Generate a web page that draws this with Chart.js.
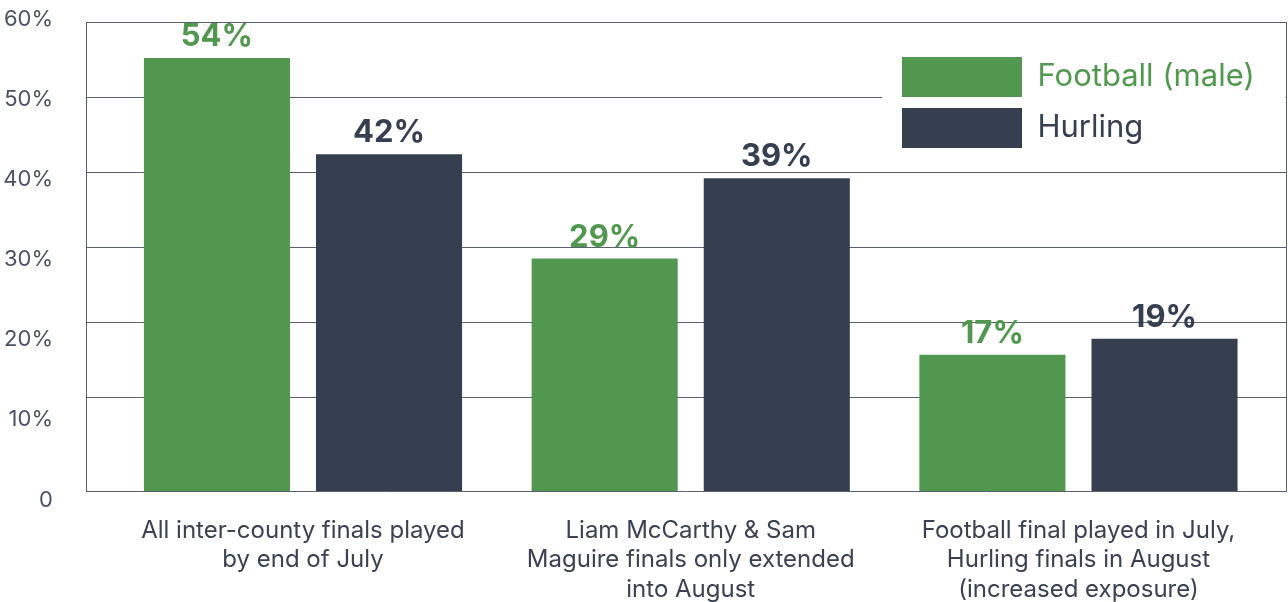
<!DOCTYPE html>
<html><head><meta charset="utf-8">
<script src="https://cdn.jsdelivr.net/npm/chart.js@4/dist/chart.umd.min.js"></script>
<style>html,body{margin:0;padding:0;background:#fff;overflow:hidden}</style>
</head><body>
<canvas id="c" width="1288" height="602"></canvas>
<script>
// ---- data ----
const categories = [
  ["All inter-county finals played", "by end of July"],
  ["Liam McCarthy & Sam", "Maguire finals only extended", "into August"],
  ["Football final played in July,", "Hurling finals in August", "(increased exposure)"]
];
const categoryPositions = [0, 1, 2];
const seriesNames = ["Football (male)", "Hurling"];
const football = [54, 29, 17];
const hurling = [42, 39, 19];
const yTickValues = [0, 10, 20, 30, 40, 50, 60];
const yTickLabels = ["0", "10%", "20%", "30%", "40%", "50%", "60%"];
const gridSteps = [0, 1, 2, 3, 4, 5];

// ---- style ----
const GREEN = '#52974f';
const DARK = '#363f4f';
const LINE = '#5b616c';
const FONT = 'Inter, "Open Sans", sans-serif';

const valueLabels = {
  id: 'valueLabels',
  afterDatasetsDraw(chart) {
    const ctx = chart.ctx;
    chart.data.datasets.forEach((ds, di) => {
      const meta = chart.getDatasetMeta(di);
      meta.data.forEach((bar, i) => {
        ctx.save();
        ctx.font = 'bold 31px ' + FONT;
        ctx.fillStyle = ds.backgroundColor;
        ctx.textAlign = 'center';
        ctx.textBaseline = 'alphabetic';
        ctx.fillText(ds.data[i].y + '%', bar.x, bar.y - 12);
        ctx.restore();
      });
    });
  }
};

const legendPlace = {
  id: 'legendPlace',
  afterLayout(chart) {
    const lg = chart.legend;
    const pad = lg.options.labels.padding;
    lg.left = 902 - pad; lg.top = 57 - pad;
    lg.right = chart.chartArea.right; lg.bottom = 220;
    lg.width = lg.right - lg.left; lg.height = lg.bottom - lg.top;
  },
  beforeDatasetsDraw(chart) {
    const ctx = chart.ctx;
    ctx.save();
    ctx.fillStyle = '#ffffff';
    ctx.fillRect(882, 50, chart.chartArea.right - 882 - 0.5, 105);
    ctx.restore();
    chart.legend.draw();
  }
};

const noPad = (s) => { s.paddingTop = 0; s.paddingBottom = 0; };

new Chart(document.getElementById('c'), {
  type: 'bar',
  data: {
    datasets: [
      { label: seriesNames[0], data: categoryPositions.map((x, i) => ({x, y: football[i]})),
        backgroundColor: GREEN, borderWidth: 0, categoryPercentage: 0.8877, barPercentage: 0.8488,
        xAxisID: 'x', yAxisID: 'y' },
      { label: seriesNames[1], data: categoryPositions.map((x, i) => ({x, y: hurling[i]})),
        backgroundColor: DARK, borderWidth: 0, categoryPercentage: 0.8877, barPercentage: 0.8488,
        xAxisID: 'x', yAxisID: 'y' }
    ]
  },
  options: {
    responsive: false,
    animation: false,
    devicePixelRatio: 1,
    layout: { padding: { top: 22, right: 2, left: 0, bottom: 0 } },
    plugins: {
      tooltip: { enabled: false },
      legend: {
        position: 'chartArea',
        fullSize: false,
        align: 'start',
        labels: {
          boxWidth: 120, boxHeight: 40, padding: 11,
          font: { family: FONT, size: 31 },
          generateLabels(chart) {
            return chart.data.datasets.map((ds, i) => ({
              text: ds.label, fillStyle: ds.backgroundColor, fontColor: ds.backgroundColor,
              strokeStyle: ds.backgroundColor, lineWidth: 0, hidden: false, datasetIndex: i
            }));
          }
        }
      }
    },
    scales: {
      x: {
        type: 'linear', position: 'bottom', offset: false,
        min: -0.5596, max: 2.5352, bounds: 'data',
        grid: { display: false, drawTicks: false, offset: false },
        border: { display: true, color: LINE, width: 1 },
        ticks: {
          autoSkip: false, maxRotation: 0, padding: 25,
          font: { family: FONT, size: 24, lineHeight: 1.23 }, color: '#3a4150',
          callback: (v) => { const k = categoryPositions.indexOf(v); return k >= 0 ? categories[k] : ''; }
        },
        afterBuildTicks: (s) => { s.ticks = categoryPositions.map(v => ({value: v})); },
        afterFit: (s) => { s.height = 111; }
      },
      y: {
        type: 'linear', position: 'left',
        min: 0, max: 58.5, bounds: 'data',
        grid: { display: false, drawTicks: false },
        border: { display: true, color: LINE, width: 1 },
        ticks: {
          padding: 33, labelOffset: 9, autoSkip: false,
          font: { family: FONT, size: 22 }, color: '#4b5261',
          callback: (v) => { const k = yTickValues.indexOf(v); return k >= 0 ? yTickLabels[k] : ''; }
        },
        afterBuildTicks: (s) => { s.ticks = yTickValues.map(v => ({value: v})); },
        afterFit: (s) => { s.width = 86; noPad(s); }
      },
      yg: {
        type: 'linear', position: 'right', reverse: true,
        min: 0, max: 469 / 75,
        grid: { display: true, color: LINE, lineWidth: 1, drawTicks: false },
        border: { display: true, color: LINE, width: 1 },
        ticks: { display: false },
        afterBuildTicks: (s) => { s.ticks = gridSteps.map(v => ({value: v})); },
        afterFit: (s) => { s.width = 0; noPad(s); }
      }
    }
  },
  plugins: [legendPlace, valueLabels]
});
</script>
</body></html>
